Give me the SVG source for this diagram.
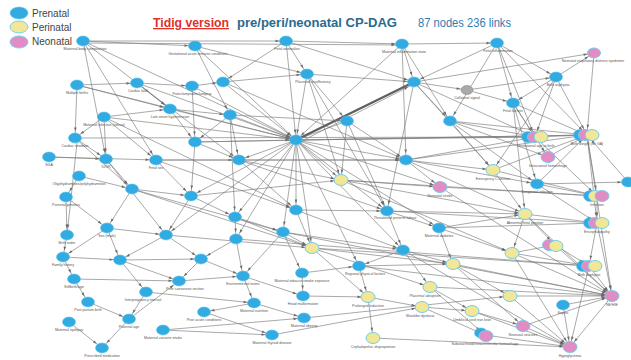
<svg xmlns="http://www.w3.org/2000/svg" width="631" height="360" viewBox="0 0 631 360">
<style>
.e path{fill:none;stroke:#7a7a7a;stroke-width:.65;marker-end:url(#ah)}
.e path.t{stroke-width:2.2;stroke:#5e5e5e}
.p{fill:#31abe1;stroke:#5cc2eb;stroke-width:.6}
.y{fill:#f2e796;stroke:#74cdee;stroke-width:1}
.n{fill:#e38cc4;stroke:#74cdee;stroke-width:1}
.g{fill:#a9a9a9;stroke:#8a8a8a;stroke-width:.6}
.l{font-family:"Liberation Sans",Arial,sans-serif;font-size:3.6px;fill:#555;text-anchor:middle}
.lg{font-family:"Liberation Sans",Arial,sans-serif;font-size:10px;fill:#444}
</style>
<defs>
<marker id="ah" markerUnits="userSpaceOnUse" markerWidth="12" markerHeight="4" refX="10.5" refY="0" orient="auto" overflow="visible">
<path d="M0,-1.3L3.8,0L0,1.3z" fill="#6a6a6a"/>
</marker>
</defs>
<rect width="631" height="360" fill="#fff"/>
<g id="legend">
<ellipse cx="19" cy="13" rx="9" ry="6" class="p"/>
<text class="lg" x="32" y="17">Prenatal</text>
<ellipse cx="19" cy="27" rx="9" ry="6" class="y"/>
<text class="lg" x="32" y="31">Perinatal</text>
<ellipse cx="19" cy="42" rx="9" ry="6" class="n"/>
<text class="lg" x="32" y="45">Neonatal</text>
</g>
<g id="title" font-family="'Liberation Sans',Arial,sans-serif" font-size="13">
<text x="153" y="27" fill="#e0302a" font-weight="bold" text-decoration="underline" textLength="76" lengthAdjust="spacingAndGlyphs">Tidig version</text>
<text x="237" y="27" fill="#2a6a8e" font-weight="bold" textLength="160" lengthAdjust="spacingAndGlyphs">pre/peri/neonatal CP-DAG</text>
<text x="418" y="27" fill="#2f7db3" textLength="93" lengthAdjust="spacingAndGlyphs">87 nodes 236 links</text>
</g>
<g id="connectors" class="e">
<path d="M83 41L286 41"/><path d="M83 43L402 45"/><path d="M286 41L402 44"/><path d="M402 44L497 43"/>
<path d="M83 41L195 46"/><path d="M195 46L307 74"/><path d="M83 41L170 109"/><path d="M83 41L106 159"/>
<path d="M83 41L156 160"/><path d="M83 41L296 140"/><path d="M195 46L296 140"/><path d="M195 46L230 115"/>
<path d="M286 41L296 140"/><path d="M286 41L223 82"/><path d="M286 41L307 74"/><path d="M286 41L414 82"/>
<path d="M402 44L414 82"/><path d="M402 44L296 140"/><path d="M402 44L450 121"/><path d="M402 44L406 160"/>
<path d="M497 43L556 77"/><path d="M497 43L513 103"/><path d="M497 43L535 137"/><path d="M497 43L587 135"/>
<path d="M497 43L450 121"/><path d="M497 43L414 82"/><path d="M77 85L137 83"/><path d="M77 85L75 138"/>
<path d="M77 85L170 109"/><path d="M77 85L296 140"/><path d="M137 83L192 86"/><path d="M137 83L170 109"/>
<path d="M137 83L296 140"/><path d="M137 83L239 160"/><path d="M192 86L223 82"/><path d="M192 86L195 142"/>
<path d="M192 86L296 140"/><path d="M223 82L307 74"/><path d="M223 82L296 140"/><path d="M223 82L406 160"/>
<path d="M307 74L414 82"/><path d="M307 74L347 121"/><path d="M307 74L296 140"/><path d="M307 74L387 211"/>
<path d="M307 74L341 180"/><path class="t" d="M296 140L414 82"/><path d="M298 143L414 84"/><path d="M414 82L467 90"/>
<path d="M414 82L450 121"/><path d="M414 82L535 137"/><path d="M414 82L387 211"/><path d="M414 82L493 170"/>
<path d="M467 90L556 77"/><path d="M467 90L513 103"/><path d="M556 77L535 137"/><path d="M556 77L587 135"/>
<path d="M556 77L513 103"/><path d="M556 77L594 53"/><path d="M556 77L493 170"/><path d="M513 103L535 137"/>
<path d="M513 103L587 135"/><path d="M513 103L548 157"/><path d="M513 103L525 214"/><path d="M513 103L537 184"/>
<path d="M594 53L587 135"/><path d="M414 82L594 53"/><path d="M170 109L296 140"/><path d="M170 109L195 142"/>
<path d="M170 109L230 115"/><path d="M104 117L170 109"/><path d="M104 117L75 138"/><path d="M104 117L296 140"/>
<path d="M104 117L106 159"/><path d="M104 117L156 160"/><path d="M104 117L296 210"/><path d="M230 115L296 140"/>
<path d="M230 115L239 160"/><path d="M230 115L195 142"/><path d="M230 115L347 121"/><path d="M230 115L235 217"/>
<path d="M347 121L296 140"/><path d="M347 121L341 180"/><path d="M347 121L406 160"/><path d="M347 121L387 211"/>
<path d="M450 121L535 137"/><path d="M450 121L587 135"/><path d="M450 121L537 184"/><path d="M450 121L493 170"/>
<path d="M450 121L548 157"/><path d="M75 138L106 159"/><path d="M75 138L535 137"/><path d="M75 138L132 189"/>
<path d="M195 142L296 140"/><path d="M195 142L587 135"/><path d="M195 142L239 160"/><path d="M195 142L191 196"/>
<path d="M296 140L239 160"/><path d="M296 140L406 160"/><path d="M296 140L235 217"/><path d="M296 140L296 210"/>
<path d="M296 140L387 211"/><path d="M296 140L283 232"/><path d="M296 140L341 180"/><path d="M296 140L312 248"/>
<path d="M296 140L535 137"/><path d="M296 140L587 135"/><path d="M296 140L440 187"/><path d="M296 140L439 228"/>
<path d="M296 140L191 196"/><path d="M296 140L166 235"/><path d="M296 140L236 239"/><path d="M296 140L403 250"/>
<path d="M296 140L359 266"/><path d="M49 157L106 159"/><path d="M49 157L156 160"/><path d="M106 159L132 189"/>
<path d="M106 159L166 235"/><path d="M156 160L239 160"/><path d="M156 160L191 196"/><path d="M156 160L296 210"/>
<path d="M156 160L406 160"/><path d="M239 160L406 160"/><path d="M239 160L296 210"/><path d="M239 160L387 211"/>
<path d="M239 160L341 180"/><path d="M406 160L535 137"/><path d="M406 160L587 135"/><path d="M406 160L440 187"/>
<path d="M406 160L537 184"/><path d="M406 160L493 170"/><path d="M406 160L525 214"/><path d="M79 176L66 197"/>
<path d="M79 176L132 189"/><path d="M77 143L67 235"/><path d="M132 189L191 196"/><path d="M132 189L107 228"/>
<path d="M132 189L283 232"/><path d="M132 189L312 248"/><path d="M191 196L235 217"/><path d="M191 196L166 235"/>
<path d="M191 196L341 180"/><path d="M537 184L597 196"/><path d="M537 184L597 223"/><path d="M537 184L587 135"/>
<path d="M537 184L628 182"/><path d="M628 182L587 135"/><path d="M66 197L67 235"/><path d="M66 197L107 228"/>
<path d="M235 217L283 232"/><path d="M235 217L236 239"/><path d="M235 217L312 248"/><path d="M296 210L387 211"/>
<path d="M296 210L312 248"/><path d="M296 210L403 250"/><path d="M387 211L439 228"/><path d="M387 211L525 214"/>
<path d="M387 211L403 250"/><path d="M387 211L597 223"/><path d="M107 228L166 235"/><path d="M107 228L120 260"/>
<path d="M107 228L63 257"/><path d="M166 235L201 259"/><path d="M166 235L120 260"/><path d="M166 235L312 248"/>
<path d="M67 235L63 257"/><path d="M439 228L525 214"/><path d="M439 228L512 253"/><path d="M439 228L597 223"/>
<path d="M439 228L453 264"/><path d="M283 232L312 248"/><path d="M283 232L302 273"/><path d="M283 232L243 276"/>
<path d="M283 232L403 250"/><path d="M236 239L201 259"/><path d="M236 239L243 276"/><path d="M403 250L453 264"/>
<path d="M403 250L430 287"/><path d="M403 250L359 266"/><path d="M63 257L74 279"/><path d="M63 257L120 260"/>
<path d="M120 260L201 259"/><path d="M120 260L146 292"/><path d="M120 260L179 281"/><path d="M201 259L179 281"/>
<path d="M201 259L243 276"/><path d="M74 279L88 302"/><path d="M74 279L179 281"/><path d="M179 281L243 276"/>
<path d="M146 292L129 319"/><path d="M146 292L254 303"/><path d="M243 276L254 303"/><path d="M243 276L303 296"/>
<path d="M302 273L359 266"/><path d="M302 273L303 296"/><path d="M359 266L368 297"/><path d="M359 266L453 264"/>
<path d="M88 302L129 319"/><path d="M254 303L304 318"/><path d="M254 303L204 312"/><path d="M303 296L368 297"/>
<path d="M204 312L272 335"/><path d="M69 322L102 348"/><path d="M129 319L102 348"/><path d="M129 319L179 281"/>
<path d="M163 330L272 335"/><path d="M163 330L304 318"/><path d="M304 318L510 296"/><path d="M563 305L612 296"/>
<path d="M563 305L570 347"/><path d="M341 180L525 214"/><path d="M341 180L440 187"/><path d="M341 180L512 253"/>
<path d="M341 180L597 196"/><path d="M493 170L597 196"/><path d="M493 170L525 214"/><path d="M493 170L587 135"/>
<path d="M525 214L597 223"/><path d="M525 214L512 253"/><path d="M525 214L555 245"/><path d="M525 214L612 296"/>
<path d="M312 248L453 264"/><path d="M312 248L430 287"/><path d="M312 248L368 297"/><path d="M512 253L555 245"/>
<path d="M512 253L589 266"/><path d="M512 253L612 296"/><path d="M512 253L570 347"/><path d="M555 245L589 266"/>
<path d="M555 245L612 296"/><path d="M453 264L510 296"/><path d="M453 264L612 296"/><path d="M453 264L523 326"/>
<path d="M430 287L472 311"/><path d="M430 287L485 335"/><path d="M430 287L612 296"/><path d="M510 296L612 296"/>
<path d="M510 296L570 347"/><path d="M368 297L422 307"/><path d="M368 297L373 338"/><path d="M422 307L472 311"/>
<path d="M422 307L485 335"/><path d="M472 311L523 326"/><path d="M472 311L570 347"/><path d="M373 338L570 347"/>
<path d="M548 157L587 135"/><path d="M440 187L597 196"/><path d="M440 187L612 296"/><path d="M523 326L570 347"/>
<path d="M523 326L612 296"/><path d="M485 335L570 347"/><path d="M535 137L587 135"/><path d="M535 137L597 196"/>
<path d="M587 135L597 196"/><path d="M587 135L597 223"/><path d="M587 135L612 296"/><path d="M597 196L597 223"/>
<path d="M597 223L589 266"/><path d="M597 223L612 296"/><path d="M589 266L612 296"/><path d="M589 266L570 347"/>
<path d="M612 296L570 347"/><path d="M359 266L612 296"/><path d="M403 250L570 347"/><path d="M312 248L589 266"/>
<path d="M236 239L589 266"/><path d="M283 232L612 296"/><path d="M272 335L422 307"/>
</g>
<g id="nodes">
<g id="n1"><ellipse class="p" cx="83" cy="41" rx="6.5" ry="5"/><text class="l" x="85" y="50">Maternal body composition</text></g>
<g id="n2"><ellipse class="p" cx="195" cy="46" rx="6.5" ry="5"/><text class="l" x="198" y="55">Gestational acute immune conditions</text></g>
<g id="n3"><ellipse class="p" cx="286" cy="41" rx="6.5" ry="5"/><text class="l" x="287" y="50">Fetal anomalies</text></g>
<g id="n4"><ellipse class="p" cx="402" cy="44" rx="6.5" ry="5"/><text class="l" x="404" y="53">Maternal inflammation state</text></g>
<g id="n5"><ellipse class="p" cx="497" cy="43" rx="6.5" ry="5"/><text class="l" x="498" y="52">Fetal inflammation</text></g>
<g id="n6"><ellipse class="n" cx="594" cy="53" rx="6.5" ry="5"/><text class="l" x="593" y="62">Neonatal respiratory distress syndrome</text></g>
<g id="n7"><ellipse class="p" cx="77" cy="85" rx="6.5" ry="5"/><text class="l" x="77" y="94">Multiple births</text></g>
<g id="n8"><ellipse class="p" cx="137" cy="83" rx="6.5" ry="5"/><text class="l" x="138" y="92">Cardiac fault</text></g>
<g id="n9"><ellipse class="p" cx="192" cy="86" rx="6.5" ry="5"/><text class="l" x="192" y="95">Preeclampsia/eclampsia</text></g>
<g id="n10"><ellipse class="p" cx="223" cy="82" rx="6.5" ry="5"/></g>
<g id="n11"><ellipse class="p" cx="307" cy="74" rx="6.5" ry="5"/><text class="l" x="313" y="83">Placental insufficiency</text></g>
<g id="n12"><ellipse class="p" cx="414" cy="82" rx="6.5" ry="5"/></g>
<g id="n13"><ellipse class="g" cx="467" cy="90" rx="6" ry="4.5"/><text class="l" x="467" y="99">Collateral signal</text></g>
<g id="n14"><ellipse class="p" cx="556" cy="77" rx="6.5" ry="5"/><text class="l" x="558" y="86">Birth asphyxia</text></g>
<g id="n15"><ellipse class="p" cx="513" cy="103" rx="6.5" ry="5"/><text class="l" x="513" y="112">Fetal factors</text></g>
<g id="n16"><ellipse class="p" cx="170" cy="109" rx="6.5" ry="5"/><text class="l" x="170" y="118">Late onset hypertension</text></g>
<g id="n17"><ellipse class="p" cx="104" cy="117" rx="6.5" ry="5"/><text class="l" x="104" y="126">Maternal infection (uterus)</text></g>
<g id="n18"><ellipse class="p" cx="230" cy="115" rx="6.5" ry="5"/></g>
<g id="n19"><ellipse class="p" cx="347" cy="121" rx="6.5" ry="5"/></g>
<g id="n20"><ellipse class="p" cx="450" cy="121" rx="6.5" ry="5"/></g>
<g id="n21"><ellipse class="p" cx="75" cy="138" rx="6.5" ry="5"/><text class="l" x="75" y="147">Cardiac newborn</text></g>
<g id="n22"><ellipse class="p" cx="195" cy="142" rx="6.5" ry="5"/></g>
<g id="n23"><ellipse class="p" cx="296" cy="140" rx="6.5" ry="5"/></g>
<g id="n24"><ellipse class="p" cx="49" cy="157" rx="6.5" ry="5"/><text class="l" x="49" y="166">SGA</text></g>
<g id="n25"><ellipse class="p" cx="106" cy="159" rx="6.5" ry="5"/><text class="l" x="106" y="168">IUGR</text></g>
<g id="n26"><ellipse class="p" cx="156" cy="160" rx="6.5" ry="5"/><text class="l" x="156" y="169">Fetal sex</text></g>
<g id="n27"><ellipse class="p" cx="239" cy="160" rx="6.5" ry="5"/></g>
<g id="n28"><ellipse class="p" cx="406" cy="160" rx="6.5" ry="5"/></g>
<g id="n29"><ellipse class="p" cx="79" cy="176" rx="6.5" ry="5"/><text class="l" x="79" y="185">Oligohydramnios/polyhydramnios</text></g>
<g id="n30"><ellipse class="p" cx="132" cy="189" rx="6.5" ry="5"/></g>
<g id="n31"><ellipse class="p" cx="191" cy="196" rx="6.5" ry="5"/></g>
<g id="n32"><ellipse class="p" cx="537" cy="184" rx="6.5" ry="5"/><text class="l" x="537" y="193">Congenital infection</text></g>
<g id="n33"><ellipse class="p" cx="628" cy="182" rx="6.5" ry="5"/></g>
<g id="n34"><ellipse class="p" cx="66" cy="197" rx="6.5" ry="5"/><text class="l" x="66" y="206">Parental genetics</text></g>
<g id="n35"><ellipse class="p" cx="235" cy="217" rx="6.5" ry="5"/></g>
<g id="n36"><ellipse class="p" cx="296" cy="210" rx="6.5" ry="5"/></g>
<g id="n37"><ellipse class="p" cx="387" cy="211" rx="6.5" ry="5"/><text class="l" x="395" y="219">Threatened preterm labour</text></g>
<g id="n38"><ellipse class="p" cx="107" cy="228" rx="6.5" ry="5"/><text class="l" x="107" y="237">Sex (male)</text></g>
<g id="n39"><ellipse class="p" cx="166" cy="235" rx="6.5" ry="5"/></g>
<g id="n40"><ellipse class="p" cx="67" cy="235" rx="6.5" ry="5"/><text class="l" x="67" y="244">Birth order</text></g>
<g id="n41"><ellipse class="p" cx="439" cy="228" rx="6.5" ry="5"/><text class="l" x="439" y="237">Maternal diabetes</text></g>
<g id="n42"><ellipse class="p" cx="283" cy="232" rx="6.5" ry="5"/></g>
<g id="n43"><ellipse class="p" cx="236" cy="239" rx="6.5" ry="5"/></g>
<g id="n44"><ellipse class="p" cx="403" cy="250" rx="6.5" ry="5"/></g>
<g id="n45"><ellipse class="p" cx="63" cy="257" rx="6.5" ry="5"/><text class="l" x="63" y="266">Family history</text></g>
<g id="n46"><ellipse class="p" cx="120" cy="260" rx="6.5" ry="5"/></g>
<g id="n47"><ellipse class="p" cx="201" cy="259" rx="6.5" ry="5"/></g>
<g id="n48"><ellipse class="p" cx="74" cy="279" rx="6.5" ry="5"/><text class="l" x="74" y="288">Stillbirth/age</text></g>
<g id="n49"><ellipse class="p" cx="179" cy="281" rx="6.5" ry="5"/><text class="l" x="185" y="290">Prior caesarean section</text></g>
<g id="n50"><ellipse class="p" cx="146" cy="292" rx="6.5" ry="5"/><text class="l" x="143" y="301">Interpregnancy interval</text></g>
<g id="n51"><ellipse class="p" cx="243" cy="276" rx="6.5" ry="5"/><text class="l" x="243" y="285">Environmental toxins</text></g>
<g id="n52"><ellipse class="p" cx="302" cy="273" rx="6.5" ry="5"/><text class="l" x="302" y="282">Maternal tobacco smoke exposure</text></g>
<g id="n53"><ellipse class="p" cx="359" cy="266" rx="6.5" ry="5"/><text class="l" x="365" y="275">Regional physical factors</text></g>
<g id="n54"><ellipse class="p" cx="88" cy="302" rx="6.5" ry="5"/><text class="l" x="88" y="311">Post partum birth</text></g>
<g id="n55"><ellipse class="p" cx="254" cy="303" rx="6.5" ry="5"/><text class="l" x="254" y="312">Maternal nutrition</text></g>
<g id="n56"><ellipse class="p" cx="303" cy="296" rx="6.5" ry="5"/><text class="l" x="303" y="305">Head malformation</text></g>
<g id="n57"><ellipse class="p" cx="204" cy="312" rx="6.5" ry="5"/><text class="l" x="204" y="321">Prior acute conditions</text></g>
<g id="n58"><ellipse class="p" cx="69" cy="322" rx="6.5" ry="5"/><text class="l" x="69" y="331">Maternal epilepsy</text></g>
<g id="n59"><ellipse class="p" cx="129" cy="319" rx="6.5" ry="5"/><text class="l" x="129" y="328">Paternal age</text></g>
<g id="n60"><ellipse class="p" cx="304" cy="318" rx="6.5" ry="5"/><text class="l" x="304" y="327">Maternal obesity</text></g>
<g id="n61"><ellipse class="p" cx="163" cy="330" rx="6.5" ry="5"/><text class="l" x="163" y="339">Maternal cocaine intake</text></g>
<g id="n62"><ellipse class="p" cx="272" cy="335" rx="6.5" ry="5"/><text class="l" x="272" y="344">Maternal thyroid disease</text></g>
<g id="n63"><ellipse class="p" cx="102" cy="348" rx="6.5" ry="5"/><text class="l" x="102" y="357">Prescribed medication</text></g>
<g id="n64"><ellipse class="p" cx="563" cy="305" rx="6.5" ry="5"/><text class="l" x="563" y="314">Sepsis</text></g>
<g id="n65"><ellipse class="y" cx="341" cy="180" rx="7" ry="5.5"/></g>
<g id="n66"><ellipse class="y" cx="493" cy="170" rx="7" ry="5.5"/><text class="l" x="493" y="180">Emergency C-section</text></g>
<g id="n67"><ellipse class="y" cx="525" cy="214" rx="7" ry="5.5"/><text class="l" x="525" y="224">Abnormal fetal position</text></g>
<g id="n68"><ellipse class="y" cx="312" cy="248" rx="7" ry="5.5"/></g>
<g id="n69"><ellipse class="y" cx="512" cy="253" rx="7" ry="5.5"/></g>
<g id="n70"><ellipse class="n" cx="549" cy="245" rx="6.5" ry="5.5"/><ellipse class="y" cx="556" cy="246" rx="7" ry="5.5"/></g>
<g id="n71"><ellipse class="y" cx="453" cy="264" rx="7" ry="5.5"/></g>
<g id="n72"><ellipse class="y" cx="430" cy="287" rx="7" ry="5.5"/><text class="l" x="425" y="297">Placental abruption</text></g>
<g id="n73"><ellipse class="y" cx="510" cy="296" rx="7" ry="5.5"/></g>
<g id="n74"><ellipse class="y" cx="368" cy="297" rx="7" ry="5.5"/><text class="l" x="368" y="307">Prolonged induction</text></g>
<g id="n75"><ellipse class="y" cx="422" cy="307" rx="7" ry="5.5"/><text class="l" x="420" y="317">Shoulder dystocia</text></g>
<g id="n76"><ellipse class="y" cx="472" cy="311" rx="7" ry="5.5"/><text class="l" x="472" y="321">Umbilical cord true knot</text></g>
<g id="n77"><ellipse class="y" cx="373" cy="338" rx="7" ry="5.5"/><text class="l" x="373" y="348">Cephalopelvic disproportion</text></g>
<g id="n78"><ellipse class="n" cx="548" cy="157" rx="7" ry="5.5"/><text class="l" x="548" y="167">Intracranial hemorrhage</text></g>
<g id="n79"><ellipse class="n" cx="440" cy="187" rx="7" ry="5.5"/><text class="l" x="440" y="197">Neonatal stroke</text></g>
<g id="n80"><ellipse class="n" cx="612" cy="296" rx="7" ry="5.5"/><text class="l" x="612" y="306">NE/HIE</text></g>
<g id="n81"><ellipse class="n" cx="523" cy="326" rx="7" ry="5.5"/><text class="l" x="523" y="336">Neonatal seizures</text></g>
<g id="n82"><ellipse class="p" cx="481" cy="333" rx="6.5" ry="5"/><ellipse class="n" cx="486" cy="336" rx="7" ry="5.5"/><text class="l" x="485" y="345">Subarachnoid/intraventricular hemorrhage</text></g>
<g id="n83"><ellipse class="n" cx="570" cy="347" rx="7" ry="5.5"/><text class="l" x="570" y="357">Hypoglycemia</text></g>
<g id="n84"><ellipse class="p" cx="528" cy="137" rx="6.5" ry="5.5"/><ellipse class="n" cx="534" cy="137" rx="6.5" ry="5.5"/><ellipse class="y" cx="541" cy="137" rx="7" ry="5.5"/><text class="l" x="536" y="147">Gestational age at birth</text></g>
<g id="n85"><ellipse class="p" cx="580" cy="135" rx="6.5" ry="5.5"/><ellipse class="n" cx="585" cy="135" rx="6.5" ry="5.5"/><ellipse class="y" cx="592" cy="135" rx="7" ry="5.5"/><text class="l" x="587" y="145">Birth weight (for GA)</text></g>
<g id="n86"><ellipse class="p" cx="590" cy="196" rx="6.5" ry="5.5"/><ellipse class="y" cx="595" cy="196" rx="6.5" ry="5.5"/><ellipse class="n" cx="602" cy="196" rx="7" ry="5.5"/><text class="l" x="597" y="206">Infection</text></g>
<g id="n87"><ellipse class="p" cx="590" cy="223" rx="6.5" ry="5.5"/><ellipse class="n" cx="595" cy="223" rx="6.5" ry="5.5"/><ellipse class="y" cx="602" cy="223" rx="7" ry="5.5"/><text class="l" x="597" y="233">Encephalopathy</text></g>
<g id="n88"><ellipse class="p" cx="583" cy="266" rx="6.5" ry="5.5"/><ellipse class="n" cx="588" cy="266" rx="6.5" ry="5.5"/><ellipse class="y" cx="595" cy="266" rx="7" ry="5.5"/><text class="l" x="589" y="276">Birth asphyxia</text></g>
</g>
</svg>
